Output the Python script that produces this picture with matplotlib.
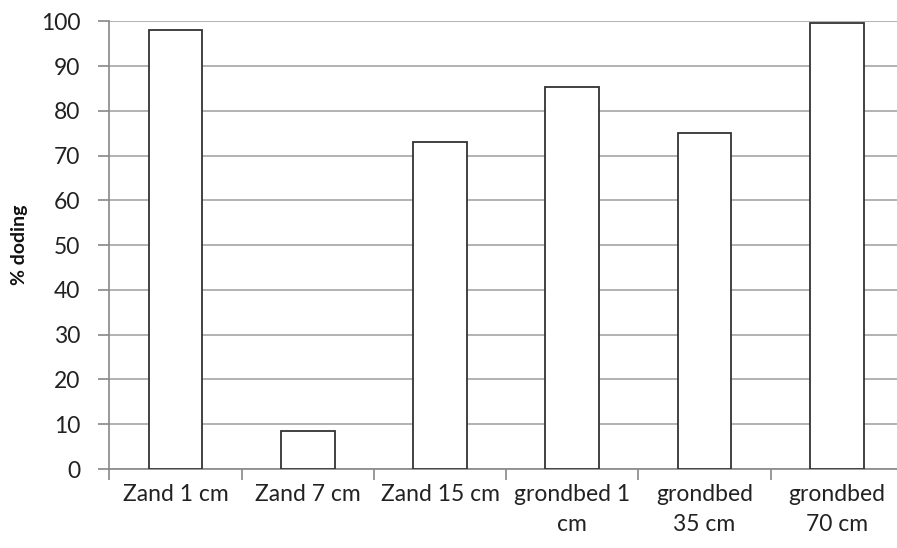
import matplotlib
matplotlib.use("Agg")
import matplotlib.pyplot as plt
import numpy as np

categories = ["Zand 1 cm", "Zand 7 cm", "Zand 15 cm", "grondbed 1\ncm", "grondbed\n35 cm", "grondbed\n70 cm"]
values = [98.0, 8.5, 73.0, 85.3, 75.0, 99.7]
yticks = [0, 10, 20, 30, 40, 50, 60, 70, 80, 90, 100]

plt.rcParams['font.family'] = ['Lato', 'DejaVu Sans']

fig = plt.figure(figsize=(8.97, 5.48), dpi=100)
ax = fig.add_axes([109.3/897, 1-469/548, (903-109.3)/897, (469-21.3)/548])

x = np.arange(len(categories))
ax.bar(x, values, width=0.406, color="white", edgecolor="#333333", linewidth=1.3, zorder=3)

ax.set_xlim(-0.5, len(categories)-0.5)
ax.set_ylim(0, 100)
ax.set_yticks(yticks)
ax.set_yticklabels([str(v) for v in yticks], fontsize=16.5, color="#222222")
ax.yaxis.grid(True, color="#a6a6a6", linewidth=1.2, zorder=0)
ax.set_axisbelow(True)

ax.set_xticks(x)
ax.set_xticklabels(categories, fontsize=16.5, color="#222222", linespacing=1.5, va="top")
ax.tick_params(axis='x', length=0, pad=11)
# category boundary ticks
ax.set_xticks(np.arange(-0.5, len(categories)), minor=True)
ax.tick_params(axis='x', which='minor', length=8, color="#888888", width=1.2)
ax.tick_params(axis='y', length=8, color="#888888", width=1.2, pad=13)

for s in ["top", "right"]:
    ax.spines[s].set_visible(False)
for s in ["left", "bottom"]:
    ax.spines[s].set_color("#888888")
    ax.spines[s].set_linewidth(1.2)

ax.set_ylabel("% doding", fontsize=14, fontweight="bold", color="#111111")
ax.yaxis.set_label_coords((28 - 109.3) / (903 - 109.3), 0.5)

fig.savefig("out.png", dpi=100)
